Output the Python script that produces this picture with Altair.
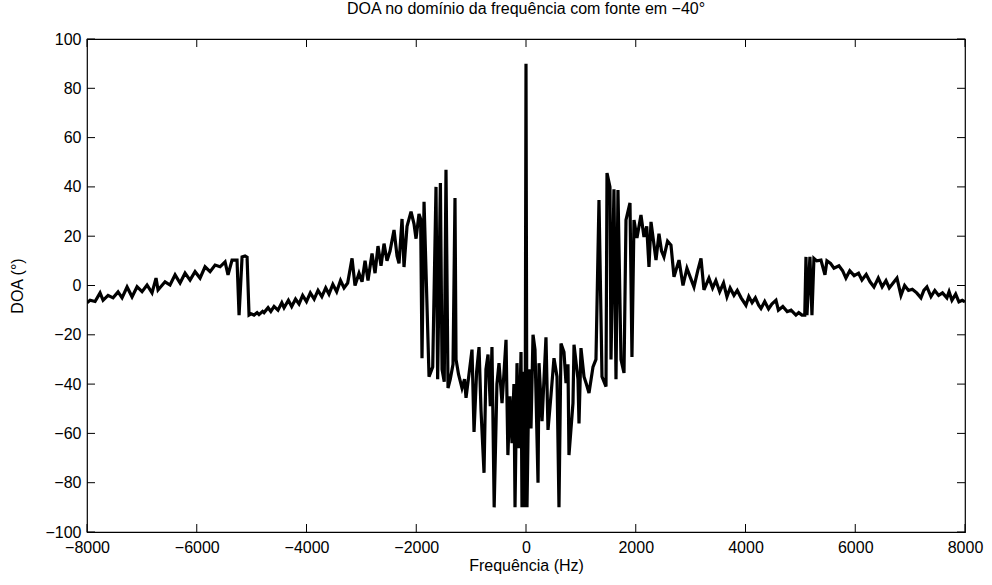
import altair as alt
import pandas as pd

freq_hz = [
    -8000, -7944, -7853, -7762, -7707, -7616, -7525, -7434, -7361, -7270,
    -7179, -7088, -6997, -6906, -6815, -6742, -6705, -6578, -6487, -6395,
    -6304, -6213, -6122, -6031, -5940, -5849, -5757, -5666, -5575, -5484,
    -5430, -5357, -5266, -5229, -5174, -5120, -5083, -5047, -5010,
    -4956, -4900, -4865, -4800, -4774, -4700, -4650, -4591, -4520, -4450,
    -4409, -4330, -4270, -4200, -4136, -4070, -4000, -3930, -3860, -3790,
    -3720, -3650, -3590, -3520, -3450, -3380, -3316, -3250, -3170, -3116,
    -3043, -2988, -2933, -2879, -2806, -2751, -2697, -2642, -2587, -2533,
    -2478, -2405, -2350, -2314, -2259, -2223, -2168, -2095, -2041, -2004,
    -1950, -1920, -1895, -1858, -1767, -1700, -1640, -1610, -1560, -1530,
    -1490, -1458, -1421, -1380, -1330, -1294, -1275, -1230, -1166, -1120,
    -1093, -1050, -984, -947, -900, -856, -820, -765, -730, -692,
    -650, -620, -580, -530, -492, -437, -400, -364, -330, -292,
    -255, -220, -200, -164, -128, -91, -73, -40, -18, 0,
    18, 55, 91, 128, 164, 219, 237, 292, 364, 401,
    456, 510, 565, 601, 638, 692, 729, 765, 783, 856,
    875, 947, 966, 1002, 1057, 1100, 1148, 1221, 1275, 1330,
    1385, 1458, 1476, 1530, 1549, 1603, 1640, 1676, 1731, 1786,
    1822, 1895, 1931, 1968, 2022, 2095, 2150, 2200, 2241, 2278,
    2369, 2423, 2470, 2514, 2580, 2642, 2697, 2788, 2861, 2933,
    3000, 3061, 3130, 3189, 3243, 3334, 3400, 3460, 3530, 3600,
    3662, 3720, 3790, 3850, 3920, 4008, 4060, 4120, 4180, 4240,
    4282, 4350, 4420, 4480, 4555, 4600, 4680, 4760, 4830, 4919,
    4970, 5029, 5080, 5102, 5120, 5174, 5211, 5247, 5300, 5375,
    5448, 5484, 5550, 5612, 5703, 5770, 5830, 5900, 5980, 6060,
    6122, 6200, 6270, 6341, 6420, 6490, 6560, 6620, 6690, 6760,
    6833, 6900, 6970, 7040, 7120, 7197, 7250, 7306, 7380, 7450,
    7520, 7590, 7670, 7710, 7762, 7830, 7889, 7950, 8000,
]

doa_deg = [
    -7, -6, -6.5, -3, -6, -4, -5, -2.6, -5, -0.6,
    -4.6, -0.5, -2.5, 0.2, -3, 3, -1.8, 1.5, 0.2, 4.3,
    1, 5, 2.2, 5.6, 3, 7.6, 5.6, 8.3, 7.6, 9.6,
    4.3, 10.3, 10.3, -12, 11.6, 12, 11.5, -12, -11.5,
    -12, -11, -11.8, -10.5, -11, -9, -10.5, -8.5, -10, -7,
    -9, -6, -8.5, -5.5, -7.5, -4, -6.5, -3, -5.5, -2,
    -4.5, -1, -3.5, 0.5, -2.5, 2, -1, 1, 11, 0,
    5, 1.5, 10, 2, 13, 5, 16, 8, 17, 10,
    14, 22.5, 12, 9, 27, 7.5, 24, 30, 25, 19,
    29, 27, -29.5, 34, -37, -33, 40, -38, 41.6, -34,
    -39, 47, -41.6, -38, -32, 35.5, -30, -36, -41.6, -38,
    -45.6, -38, -26, -59.4, -35, -25, -50.5, -76, -34, -28,
    -49, -25, -90, -40, -31.5, -47.7, -35, -22, -68.8, -45,
    -64, -40, -90, -31.5, -66, -27, -90, -35, -90, 90,
    -90, -34, -58, -20, -26, -80, -31.5, -55, -21, -58.6,
    -44.4, -29.5, -37, -90, -23.5, -27, -39.6, -32, -68.8, -47.7,
    -24, -38, -56, -25.4, -37, -40, -43.6, -33, -30, 34.7,
    -37, -41, 45.6, 40, -30, 39, -38, 38.7, -30, -35.5,
    26.6, 33.5, -29, 26.6, 19.3, 28.6, 19.7, 24, 7.5, 25.8,
    10.3, 21, 14, 11.6, 18, 16.4, 3.5, 10.3, 0, 7,
    3, -0.6, 6, 11, -1.8, 3, -1, 2, -2.5, 1,
    -4.6, -1, -4, -2, -5, -8, -4.5, -7, -5, -8,
    -9.3, -6.5, -9.5, -7.5, -6, -10, -8.5, -10.6, -10, -12,
    -11, -12, -12, 11.6, -12, 11.6, -12, 11, 10, 10.3,
    4.3, 10, 9, 7, 8, 6, 3, 6, 4, 5,
    2.2, 4.5, 1.5, -0.6, 3, -0.5, 2, -1, 1, 3,
    -4, 0, -2, -1.5, -3, -5, -2, -0.6, -4.5, -2,
    -4, -3, -5, -2.5, -6, -3.5, -6.6, -6, -6.6,
]

x_ticks = [-8000, -6000, -4000, -2000, 0, 2000, 4000, 6000, 8000]
y_ticks = [-100, -80, -60, -40, -20, 0, 20, 40, 60, 80, 100]

W, H = 878, 493
TL = 8
FONT = "Liberation Sans, Arial, Helvetica, sans-serif"
FS = 16

df = pd.DataFrame({"f": freq_hz, "doa": doa_deg})
xt = pd.DataFrame({"t": x_ticks})
yt = pd.DataFrame({"t": y_ticks})

xscale = alt.Scale(domain=[-8000, 8000], nice=False, zero=False)
yscale = alt.Scale(domain=[-100, 100], nice=False, zero=False)

axis_style = dict(tickSize=0, domain=False, grid=False, format="d",
                  labelFont=FONT, labelFontSize=FS, labelColor="black",
                  titleFont=FONT, titleFontSize=FS, titleColor="black",
                  titleFontWeight="normal", labelFlush=False, labelOverlap=False)

line = alt.Chart(df).mark_line(color="black", strokeWidth=3.2, clip=True).encode(
    x=alt.X("f:Q", scale=xscale, title="Frequência (Hz)",
            axis=alt.Axis(values=x_ticks, labelPadding=7, titlePadding=2, **axis_style)),
    y=alt.Y("doa:Q", scale=yscale, title="DOA (°)",
            axis=alt.Axis(values=y_ticks, labelPadding=6, titlePadding=19, **axis_style)),
)

bx = alt.Chart(xt).mark_rule(color="black", strokeWidth=1).encode(
    x=alt.X("t:Q", scale=xscale), y=alt.value(H), y2=alt.value(H - TL))
tx = alt.Chart(xt).mark_rule(color="black", strokeWidth=1).encode(
    x=alt.X("t:Q", scale=xscale), y=alt.value(0), y2=alt.value(TL))
ly = alt.Chart(yt).mark_rule(color="black", strokeWidth=1).encode(
    y=alt.Y("t:Q", scale=yscale), x=alt.value(0), x2=alt.value(TL))
ry = alt.Chart(yt).mark_rule(color="black", strokeWidth=1).encode(
    y=alt.Y("t:Q", scale=yscale), x=alt.value(W), x2=alt.value(W - TL))

chart = alt.layer(line, bx, tx, ly, ry).properties(
    width=W, height=H,
    title=alt.TitleParams("DOA no domínio da frequência com fonte em −40°",
                          anchor="middle", font=FONT, fontSize=FS,
                          fontWeight="normal", color="black", offset=14),
    autosize=alt.AutoSizeParams(type="none"),
    padding={"left": 87, "top": 39, "right": 27, "bottom": 53},
).configure_view(stroke="black", strokeWidth=1.2)

chart.save("out.html", embed_options={"renderer": "svg", "actions": False})
